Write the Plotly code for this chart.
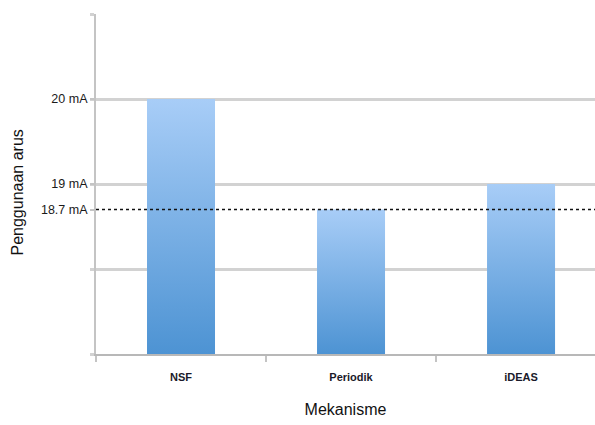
import plotly.graph_objects as go

# Current consumption per mechanism (mA)
mechanisms = ["NSF", "Periodik", "iDEAS"]
current_ma = [20.0, 18.7, 19.0]

# Axis scale and labelled levels
axis_min, axis_max = 17, 21
grid_levels = [17, 18, 19, 20, 21]
label_levels = [20, 19, 18.7]
label_texts = ["20 mA", "19 mA", "18.7 mA"]
reference_level = 18.7

bar_half_width = 0.2
bar_colorscale = [[0.0, "#4d93d3"], [1.0, "#a8cdf7"]]

fig = go.Figure()

# Bars as filled polygons so each can carry a vertical gradient
for i, (name, val) in enumerate(zip(mechanisms, current_ma)):
    xs = [i - bar_half_width, i - bar_half_width, i + bar_half_width, i + bar_half_width, i - bar_half_width]
    ys = [axis_min, val, val, axis_min, axis_min]
    fig.add_trace(go.Scatter(
        x=xs, y=ys, name=name, mode="lines", line=dict(width=0),
        fill="toself",
        fillgradient=dict(type="vertical", colorscale=bar_colorscale),
        hoverinfo="skip", showlegend=False,
    ))

# Dotted reference line at the labelled level
fig.add_hline(y=reference_level, line=dict(color="#111111", width=1.5, dash="dot"), layer="above")

fig.update_layout(
    width=595, height=425,
    margin=dict(l=96, r=0, t=14, b=71),
    paper_bgcolor="white", plot_bgcolor="white",
    font=dict(family="Liberation Sans, Arial, sans-serif", color="#1a1a1a"),
    showlegend=False,
)

# Y-axis title placed as an annotation so it sits slightly below the plot centre
fig.add_annotation(
    text="Penggunaan arus", textangle=-90, showarrow=False,
    xref="paper", yref="paper", x=0, y=0.475, xanchor="center", yanchor="middle",
    xshift=-79, font=dict(size=16, color="#111111"),
)

fig.update_xaxes(
    range=[-0.5, 2.935 - 0.5],
    tickmode="array", tickvals=list(range(len(mechanisms))), ticktext=mechanisms,
    ticks="", showgrid=False, zeroline=False,
    tickfont=dict(family="Liberation Sans Narrow, Liberation Sans, Arial", size=11, color="#1a1a2a", weight="bold"),
    ticklabelstandoff=12,
    minor=dict(tickmode="array", tickvals=[-0.5, 0.5, 1.5], ticks="outside", ticklen=6,
               tickcolor="#c4c4c4", tickwidth=2),
    showline=True, linecolor="#b8b8b8", linewidth=2,
    title=dict(text="Mekanisme", font=dict(size=16, color="#111111"), standoff=22),
)

fig.update_yaxes(
    range=[axis_min, axis_max],
    tickmode="array", tickvals=label_levels, ticktext=label_texts,
    ticks="outside", ticklen=4, tickcolor="#c4c4c4", tickwidth=2,
    showgrid=False, zeroline=False,
    tickfont=dict(size=12.5, color="#1a1a1a"),
    minor=dict(tickmode="array", tickvals=grid_levels, showgrid=True,
               gridcolor="#d2d2d2", gridwidth=3, ticks="outside", ticklen=4,
               tickcolor="#d2d2d2", tickwidth=3),
    showline=True, linecolor="#c4c4c4", linewidth=2,
)

fig.write_html("out.html")
